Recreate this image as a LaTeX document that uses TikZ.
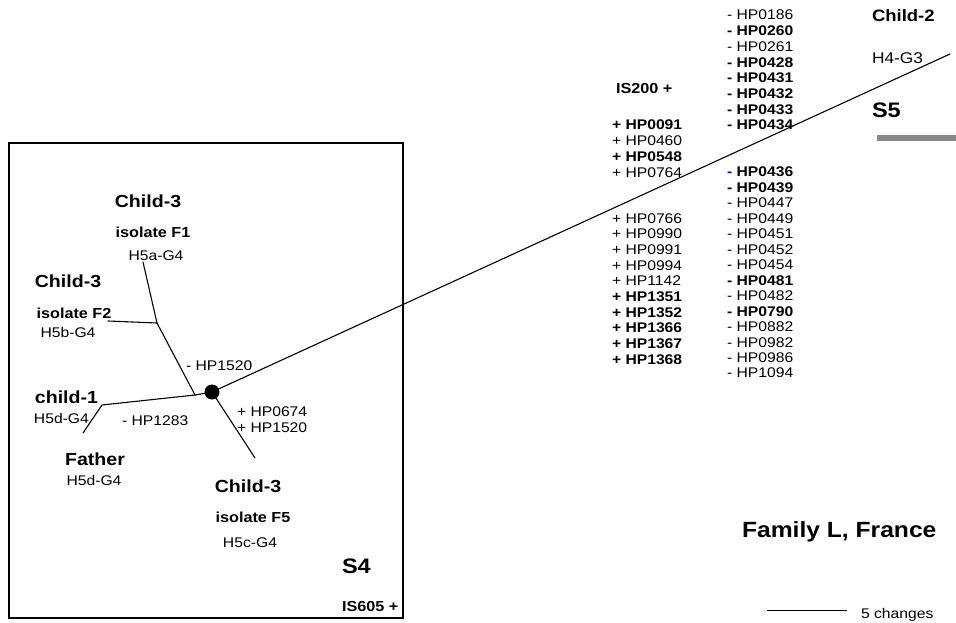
\documentclass[tikz,border=0pt]{standalone}
\usepackage{fontspec}
\setmainfont{Liberation Sans}[FakeStretch=1.12]
\definecolor{bargray}{RGB}{136,136,136}
\begin{document}
\begin{tikzpicture}[x=1pt,y=-1pt,
  txt/.style={inner sep=0pt, outer sep=0pt},
  small/.style={txt, font=\fontsize{14}{16}\selectfont},
  smallb/.style={txt, font=\fontsize{14.5}{16}\selectfont\bfseries},
  who/.style={txt, font=\fontsize{17.5}{20}\selectfont\bfseries},
  big/.style={txt, font=\fontsize{21}{24}\selectfont\bfseries},
  hp/.style={small, anchor=base west},
  branch/.style={line width=1.1pt, line cap=round},
  hubdot/.style={circle, fill=black, minimum size=15pt, inner sep=0pt},
]
\useasboundingbox (0,0) rectangle (956,623);

% frame around the S4 cluster
\draw[line width=2pt] (9,143) rectangle (403,618);

% tree skeleton
\coordinate (n1)  at (195,395);
\coordinate (jF)  at (157,323);
\coordinate (tF1) at (143,262);
\coordinate (tF2) at (108,321);
\coordinate (jC)  at (102,405);
\coordinate (tFa) at (83,433);
\coordinate (tF5) at (255,458);
\coordinate (tS5) at (950,54);
\node[hubdot] (hub) at (212,392) {};

\draw[branch] (hub.center) -- (tS5);
\draw[branch] (hub.center) -- (tF5);
\draw[branch] (hub.center) -- (n1) -- (jF) -- (tF1);
\draw[branch] (jF) -- (tF2);
\draw[branch] (n1) -- (jC) -- (tFa);

% labels inside the frame
\node[who, anchor=base] (c3a) at (148,207) {Child-3};
\node[smallb, anchor=base] (f1) at (153,237) {isolate F1};
\node[small, anchor=base] (h5a) at (156,260) {H5a-G4};
\node[who, anchor=base] (c3b) at (68,287) {Child-3};
\node[smallb, anchor=base] (f2) at (74,318) {isolate F2};
\node[small, anchor=base] (h5b) at (68,337) {H5b-G4};
\node[hp] (m1520) at (186,370) {- HP1520};
\node[who, anchor=base] (c1) at (66.5,403) {child-1};
\node[hp] (h5d1) at (34,423) {H5d-G4};
\node[hp] (m1283) at (122,425) {- HP1283};
\node[hp] (p0674) at (237,416) {+ HP0674};
\node[hp] (p1520) at (237,432) {+ HP1520};
\node[who, anchor=base] (fa) at (95,465) {Father};
\node[small, anchor=base] (h5d2) at (94,485) {H5d-G4};
\node[who, anchor=base] (c3c) at (248,492) {Child-3};
\node[smallb, anchor=base] (f5) at (253,522) {isolate F5};
\node[small, anchor=base] (h5c) at (250,547) {H5c-G4};
\node[big, anchor=base west] (s4) at (342,573) {S4};
\node[smallb, anchor=base west] (is605) at (342,611) {IS605 +};

% gene gains along the long branch
\node[smallb, anchor=base west] (is200) at (616,94) {IS200 +};
\foreach \lab/\wt [count=\i from 0] in
  {HP0091/\bfseries, HP0460/\mdseries, HP0548/\bfseries, HP0764/\mdseries}
  \node[hp] (la\i) at (612,{130+15.7*\i}) {\wt+ \lab};
\foreach \lab/\wt [count=\i from 0] in
  {HP0766/\mdseries, HP0990/\mdseries, HP0991/\mdseries, HP0994/\mdseries,
   HP1142/\mdseries, HP1351/\bfseries, HP1352/\bfseries, HP1366/\bfseries,
   HP1367/\bfseries, HP1368/\bfseries}
  \node[hp] (lb\i) at (612,{223+15.67*\i}) {\wt+ \lab};

% gene losses along the long branch
\foreach \lab/\wt [count=\i from 0] in
  {HP0186/\mdseries, HP0260/\bfseries, HP0261/\mdseries, HP0428/\bfseries,
   HP0431/\bfseries, HP0432/\bfseries, HP0433/\bfseries, HP0434/\bfseries}
  \node[hp] (ra\i) at (727,{20+15.7*\i}) {\wt- \lab};
\node[hp] (rb0) at (727,177) {\bfseries\textcolor{blue}{-} HP0436};
\foreach \lab/\wt [count=\i from 1] in
  {HP0439/\bfseries, HP0447/\mdseries, HP0449/\mdseries, HP0451/\mdseries,
   HP0452/\mdseries, HP0454/\mdseries, HP0481/\bfseries, HP0482/\mdseries,
   HP0790/\bfseries, HP0882/\mdseries, HP0982/\mdseries, HP0986/\mdseries,
   HP1094/\mdseries}
  \node[hp] (rb\i) at (727,{177+15.46*\i}) {\wt- \lab};

% Child-2 tip
\node[txt, font=\fontsize{16.5}{19}\selectfont\bfseries, anchor=base west] (c2) at (872,22) {Child-2};
\node[txt, font=\fontsize{15.5}{18}\selectfont, anchor=base west] (h4) at (872,64) {H4-G3};
\node[big, anchor=base west] (s5) at (872,118) {S5};
\coordinate (barL) at (877,138.5);
\coordinate (barR) at (956,138.5);
\draw[bargray, line width=6pt] (barL) -- (barR);

% title and scale bar
\node[txt, font=\fontsize{22}{26}\selectfont\bfseries, anchor=base west] (fam) at (742,537) {Family L, France};
\coordinate (sbL) at (767,610);
\coordinate (sbR) at (847,610);
\draw[line width=1pt] (sbL) -- (sbR);
\node[hp] (chg) at (861,618) {5 changes};
\end{tikzpicture}
\end{document}
